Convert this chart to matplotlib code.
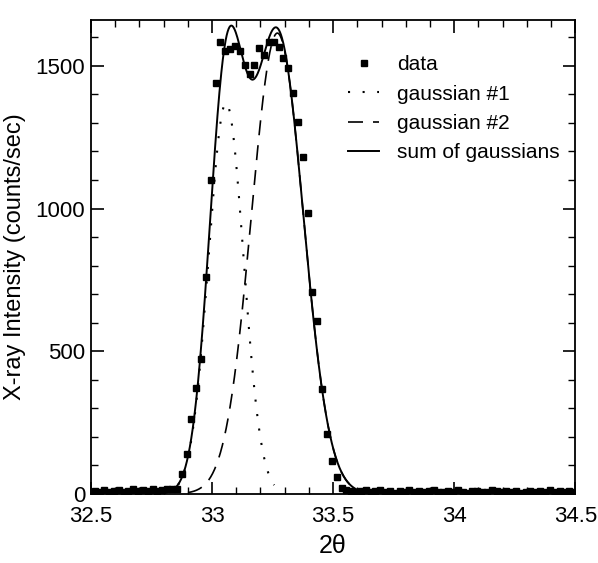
import numpy as np
import matplotlib
matplotlib.use('Agg')
from matplotlib import pyplot as plt
from matplotlib.ticker import MultipleLocator

plt.rcParams['font.family'] = ['Liberation Sans', 'DejaVu Sans']

# measured scan (2theta, counts/sec)
x_left = [32.515, 32.535, 32.555, 32.575, 32.595, 32.615, 32.635, 32.655, 32.675,
          32.695, 32.715, 32.735, 32.755, 32.775, 32.795, 32.815, 32.835]
y_left = [9, 5, 12, 6, 10, 14, 6, 11, 15, 8, 13, 9, 16, 11, 14, 18, 17]

x_peak = [32.855, 32.875, 32.895, 32.915, 32.935, 32.955, 32.975, 32.995, 33.015, 33.035,
          33.055, 33.075, 33.095, 33.115, 33.135, 33.155, 33.175, 33.195, 33.215, 33.235,
          33.255, 33.275, 33.295, 33.315, 33.335, 33.355, 33.375, 33.395, 33.415, 33.435,
          33.455, 33.475, 33.495, 33.515, 33.535, 33.555]
y_peak = [16, 70, 140, 261, 370, 471, 760, 1100, 1441, 1585,
          1552, 1558, 1570, 1552, 1502, 1471, 1503, 1562, 1537, 1585,
          1585, 1566, 1527, 1492, 1406, 1302, 1179, 984, 707, 605,
          366, 209, 116, 57, 20, 12]

x_right = [33.575, 33.595, 33.615, 33.635, 33.655, 33.675, 33.695, 33.715, 33.735, 33.755,
           33.775, 33.795, 33.815, 33.835, 33.855, 33.875, 33.895, 33.915, 33.935, 33.955,
           33.975, 33.995, 34.015, 34.035, 34.055, 34.075, 34.095, 34.115, 34.135, 34.155,
           34.175, 34.195, 34.215, 34.235, 34.255, 34.275, 34.295, 34.315, 34.335, 34.355,
           34.375, 34.395, 34.415, 34.435, 34.455, 34.475, 34.495]
y_right = [11, 7, 9, 12, 5, 8, 13, 6, 10, 4,
           9, 6, 12, 5, 10, 7, 8, 14, 6, 5,
           10, 7, 12, 6, 4, 9, 11, 5, 7, 13,
           8, 5, 10, 6, 9, 4, 7, 11, 5, 8,
           6, 12, 5, 9, 6, 10, 5]

# fitted gaussian parameters
amps = [1370, 1615]
centers = [33.058, 33.27]
sigmas = [0.072, 0.107]

x = np.array(x_left + x_peak + x_right)
y = np.array(y_left + y_peak + y_right)

xs = np.linspace(32.5, 34.5, 1000)
g1 = amps[0] * np.exp(-(xs - centers[0])**2 / (2 * sigmas[0]**2))
g2 = amps[1] * np.exp(-(xs - centers[1])**2 / (2 * sigmas[1]**2))

fig = plt.figure(figsize=(5.98, 5.63), dpi=100)
ax = fig.add_axes([0.152, 0.123, 0.81, 0.841])

ax.plot(x, y, 's', color='black', ms=4.7, label='data')
m1 = g1 > 30
ax.plot(xs[m1], g1[m1], color='black', lw=1.5, ls=(0, (1, 6)), label='gaussian #1')
m2 = g2 > 4
ax.plot(xs[m2], g2[m2], color='black', lw=1.2, ls=(0, (9, 6)), label='gaussian #2')
ax.plot(xs, g1 + g2, color='black', lw=1.4, label='sum of gaussians')

ax.set_xlim(32.5, 34.5)
ax.set_ylim(0, 1660)
ax.xaxis.set_minor_locator(MultipleLocator(0.1))
ax.yaxis.set_major_locator(MultipleLocator(500))
ax.yaxis.set_minor_locator(MultipleLocator(100))
ax.set_xticks([32.5, 33, 33.5, 34, 34.5])
ax.set_xticklabels(['32.5', '33', '33.5', '34', '34.5'])
ax.tick_params(which='both', direction='in', top=True, right=True, labelsize=16)
ax.tick_params(axis='x', which='major', pad=9)
ax.tick_params(axis='y', which='major', pad=4)
ax.tick_params(which='major', length=9, width=1.2)
ax.tick_params(which='minor', length=5, width=1)
for s in ax.spines.values():
    s.set_linewidth(1.3)

ax.set_xlabel('2θ', fontsize=18, labelpad=5)
ax.set_ylabel('X-ray Intensity (counts/sec)', fontsize=17, labelpad=7)

ax.legend(loc='upper left', bbox_to_anchor=(0.492, 0.966), frameon=False, fontsize=15,
          handlelength=1.5, labelspacing=0.5, handletextpad=0.87)

fig.savefig('out.png', dpi=100)
